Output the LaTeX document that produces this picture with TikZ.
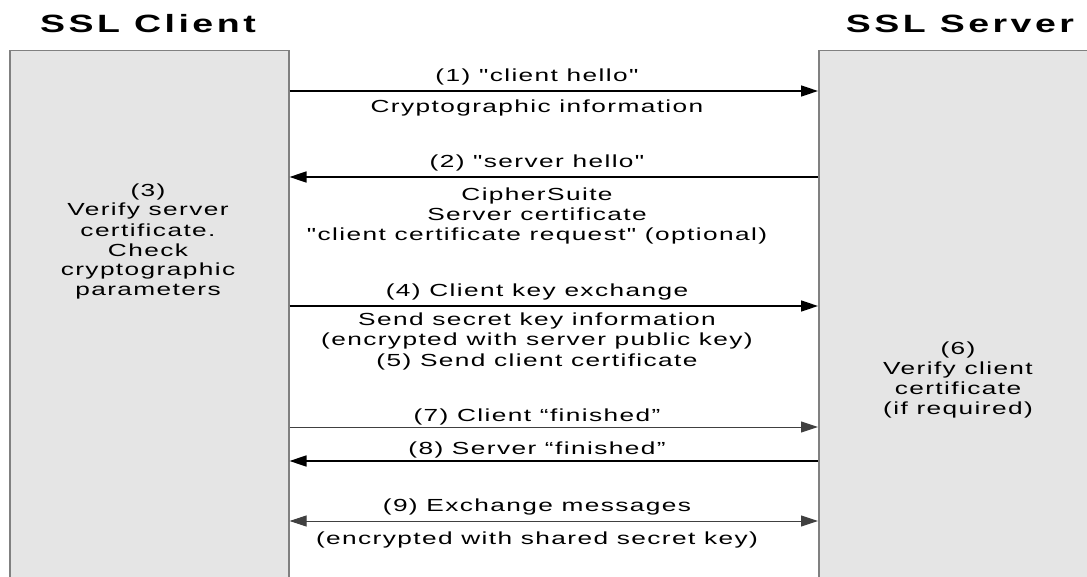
\documentclass[tikz,border=0pt]{standalone}
\usepackage{fontspec}
\newfontfamily\lblfont{Liberation Sans}[FakeStretch=1.5,LetterSpace=8]
\newfontfamily\headfont{Liberation Sans}[FakeStretch=1.5,LetterSpace=14]
\usetikzlibrary{arrows.meta}
\definecolor{lanefill}{RGB}{229,229,229}
\definecolor{laneline}{RGB}{128,128,128}
\tikzset{
  lane/.style={draw=laneline, fill=lanefill, line width=1.5pt, anchor=north west,
    minimum width=279pt, minimum height=560pt, inner sep=0pt},
  head/.style={font=\headfont\bfseries\fontsize{25}{28}\selectfont, anchor=base, inner sep=0pt},
  lbl/.style={font=\lblfont\fontsize{17.5}{20}\selectfont, anchor=base, inner sep=0pt, align=center},
  msg/.style={line width=1.6pt, -{Triangle[length=17pt,width=11pt]}},
  msgthin/.style={msg, line width=1pt, draw=black!75},
}
\begin{document}
\begin{tikzpicture}[x=1pt, y=-1pt]
  \useasboundingbox (0,0) rectangle (1087,577);
  % the two parties
  \node[lane] (client) at (9,50) {};
  \node[lane] (server) at (818,50) {};
  \node[head] (clienthead) at (148,33) {SSL Client};
  \node[head] (serverhead) at (960,33) {SSL Server};
  % multi-line labels sit on their last line
  \node[lbl] (checkserver) at (148,296) {(3)\\Verify server\\certificate.\\Check\\cryptographic\\parameters};
  \node[lbl] (checkclient) at (958,414) {(6)\\Verify client\\certificate\\(if required)};
  % message heights
  \coordinate (m1) at (537,91);
  \coordinate (m2) at (537,177);
  \coordinate (m4) at (537,306);
  \coordinate (m7) at (537,427);
  \coordinate (m8) at (537,461);
  \coordinate (m9) at (537,521);
  % labels
  \node[lbl] (hello) at (537,82) {(1) "client hello"};
  \node[lbl] (cryptinfo) at (537,113) {Cryptographic information};
  \node[lbl] (srvhello) at (537,168) {(2) "server hello"};
  \node[lbl] (suite) at (537,241) {CipherSuite\\Server certificate\\"client certificate request" (optional)};
  \node[lbl] (keyx) at (537,297) {(4) Client key exchange};
  \node[lbl] (secret) at (537,366) {Send secret key information\\(encrypted with server public key)\\(5) Send client certificate};
  \node[lbl] (clifin) at (537,421) {(7) Client “finished”};
  \node[lbl] (srvfin) at (537,454) {(8) Server “finished”};
  \node[lbl] (exch) at (537,511) {(9) Exchange messages};
  \node[lbl] (shared) at (537,544) {(encrypted with shared secret key)};
  % messages
  \draw[msg] (client.east |- m1) -- (server.west |- m1);
  \draw[msg] (server.west |- m2) -- (client.east |- m2);
  \draw[msg] (client.east |- m4) -- (server.west |- m4);
  \draw[msgthin] (client.east |- m7) -- (server.west |- m7);
  \draw[msg] (server.west |- m8) -- (client.east |- m8);
  \draw[msgthin, {Triangle[length=17pt,width=11pt]}-{Triangle[length=17pt,width=11pt]}] (client.east |- m9) -- (server.west |- m9);
\end{tikzpicture}
\end{document}
